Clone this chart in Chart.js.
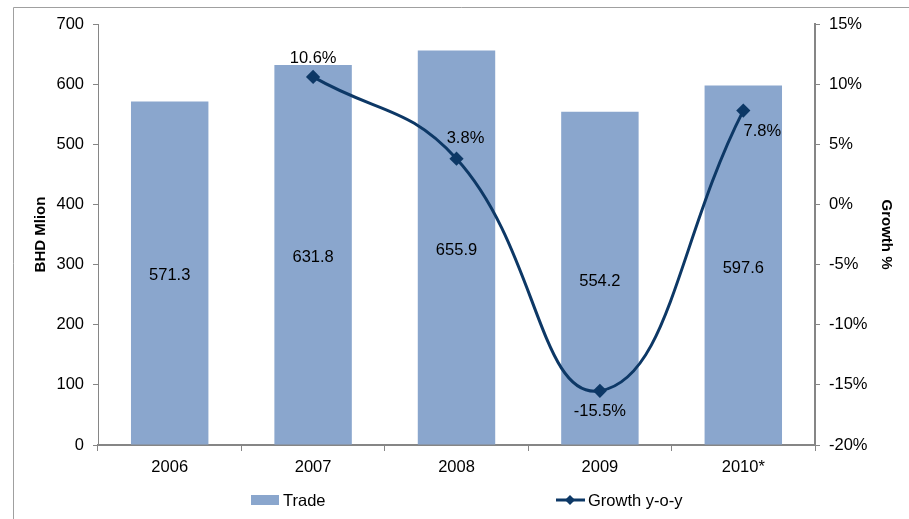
<!DOCTYPE html>
<html>
<head>
<meta charset="utf-8">
<script src="https://cdn.jsdelivr.net/npm/chart.js@4"></script>
<style>
  html, body { margin: 0; padding: 0; background: #fff; }
  #wrap { width: 909px; height: 519px; }
</style>
</head>
<body>
<div id="wrap"><canvas id="myChart" width="909" height="519"></canvas></div>
<script>
var years = ['2006', '2007', '2008', '2009', '2010*'];
var trade = [571.3, 631.8, 655.9, 554.2, 597.6];
var growth = [null, 10.6, 3.8, -15.5, 7.8];
var leftTicks = [0, 100, 200, 300, 400, 500, 600, 700];
var rightTicks = [-20, -15, -10, -5, 0, 5, 10, 15];

var barColor = '#8AA6CD';
var lineColor = '#0D3866';
var axisColor = '#868686';
var font = '"Liberation Sans", Arial, sans-serif';

// frame + value labels + legend
var extras = {
    id: 'extras',
    beforeDraw: function(chart) {
        var c = chart.ctx;
        c.save();
        c.strokeStyle = '#a0a0a0';
        c.lineWidth = 1;
        c.beginPath();
        c.moveTo(13.5, 519);
        c.lineTo(13.5, 7.5);
        c.lineTo(909, 7.5);
        c.stroke();
        c.restore();
    },
    afterDatasetsDraw: function(chart) {
        var c = chart.ctx;
        c.save();
        c.fillStyle = '#000';
        c.font = '16.5px ' + font;
        c.textAlign = 'center';
        c.textBaseline = 'middle';

        var bars = chart.getDatasetMeta(0).data;
        bars.forEach(function(b, i) {
            c.fillText(trade[i].toFixed(1), b.x, (b.y + b.base) / 2 + 3);
        });

        var offs = [null, [0, -18], [9, -20], [0, 21], [19, 21]];
        var pts = chart.getDatasetMeta(1).data;
        pts.forEach(function(p, i) {
            if (growth[i] === null) return;
            c.fillText(growth[i].toFixed(1) + '%', p.x + offs[i][0], p.y + offs[i][1]);
        });

        // legend
        var ly = 500;
        c.fillStyle = barColor;
        c.fillRect(251, ly - 5, 28, 10);
        c.fillStyle = '#000';
        c.textAlign = 'left';
        c.fillText('Trade', 283, ly + 1);

        c.strokeStyle = lineColor;
        c.lineWidth = 3;
        c.beginPath();
        c.moveTo(556, ly);
        c.lineTo(585, ly);
        c.stroke();
        c.fillStyle = lineColor;
        c.beginPath();
        c.moveTo(570, ly - 5);
        c.lineTo(575, ly);
        c.lineTo(570, ly + 5);
        c.lineTo(565, ly);
        c.closePath();
        c.fill();
        c.fillStyle = '#000';
        c.fillText('Growth y-o-y', 588, ly + 1);
        c.restore();
    }
};

var ctx = document.getElementById('myChart').getContext('2d');
var chart = new Chart(ctx, {
    type: 'bar',
    data: {
        labels: years,
        datasets: [{
            label: 'Trade',
            data: trade,
            backgroundColor: barColor,
            borderWidth: 0,
            categoryPercentage: 1,
            barPercentage: 0.54,
            yAxisID: 'y',
            order: 2
        }, {
            type: 'line',
            label: 'Growth y-o-y',
            data: growth,
            borderColor: lineColor,
            backgroundColor: lineColor,
            borderWidth: 3,
            tension: 0.45,
            pointStyle: 'rectRot',
            pointRadius: 5,
            pointHoverRadius: 5,
            yAxisID: 'y1',
            order: 1
        }]
    },
    options: {
        responsive: false,
        animation: false,
        layout: { padding: { left: 26, right: 10, top: 24, bottom: 34 } },
        plugins: {
            legend: { display: false },
            tooltip: { enabled: false }
        },
        scales: {
            x: {
                grid: { display: true, drawOnChartArea: false, drawTicks: true, tickLength: 6, color: axisColor, offset: true },
                border: { color: axisColor, width: 2 },
                ticks: { color: '#000', font: { family: font, size: 16.5 }, padding: 7 },
                afterFit: function(s) { s.height = 40; }
            },
            y: {
                position: 'left',
                min: 0, max: 700,
                afterBuildTicks: function(s) { s.ticks = leftTicks.map(function(v) { return { value: v }; }); },
                grid: { drawOnChartArea: false, drawTicks: true, tickLength: 5, color: axisColor },
                border: { color: axisColor, width: 1 },
                ticks: { color: '#000', font: { family: font, size: 16.5 }, padding: 9 },
                title: { display: true, text: 'BHD Mlion', color: '#000', font: { family: font, size: 15, weight: 'bold' },
                    padding: { top: 6, bottom: 4 } },
                afterFit: function(s) { s.width = 72; }
            },
            y1: {
                position: 'right',
                min: -20, max: 15,
                afterBuildTicks: function(s) { s.ticks = rightTicks.map(function(v) { return { value: v }; }); },
                grid: { drawOnChartArea: false, drawTicks: true, tickLength: 5, color: axisColor },
                border: { color: axisColor, width: 2 },
                ticks: { color: '#000', font: { family: font, size: 16.5 }, padding: 9,
                    callback: function(v) { return v + '%'; } },
                title: { display: true, text: 'Growth %', color: '#000', font: { family: font, size: 15, weight: 'bold' },
                    padding: { top: 4, bottom: 4 } },
                afterFit: function(s) { s.width = 84; }
            }
        }
    },
    plugins: [extras]
});
</script>
</body>
</html>
